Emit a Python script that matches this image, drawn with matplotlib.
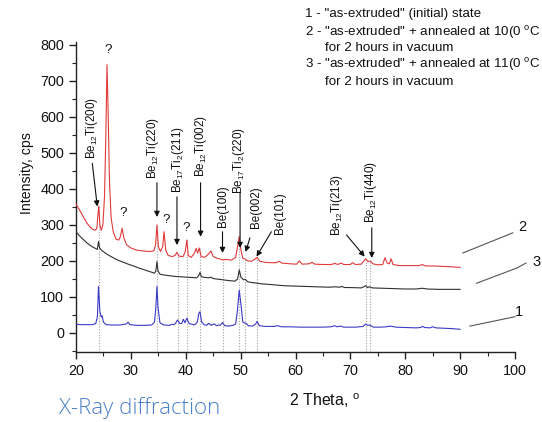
import matplotlib
matplotlib.use("Agg")
import matplotlib.pyplot as plt
from matplotlib.ticker import MultipleLocator

plt.rcParams['font.family'] = ['Liberation Sans', 'DejaVu Sans']
plt.rcParams['mathtext.fontset'] = 'custom'
plt.rcParams['mathtext.rm'] = 'Liberation Sans'
plt.rcParams['mathtext.it'] = 'Liberation Sans:italic'
plt.rcParams['mathtext.bf'] = 'Liberation Sans:bold'

# ---- data: (2theta, intensity) ----
curve1_points = [(20,24),(21,23),(22,23),(23,23),(23.6,26),(23.9,45),(24.1,129),(24.35,60),(24.6,44),(24.75,48),
    (25.0,30),(25.5,23),(26.5,22),(28,22),(29.2,25),(29.5,30),(29.8,23),(31,21),(32.5,21),(33.8,22),(34.3,30),
    (34.55,70),(34.75,129),(34.95,70),(35.3,28),(36,22),(37,21),(37.5,24),(37.9,23),(38.2,28),(38.5,36),(38.9,26),
    (39.3,27),(39.55,38),(39.85,28),(40.2,41),(40.6,26),(41.2,24),(41.6,22),(42.1,30),(42.4,55),(42.6,59),(42.9,30),
    (43.4,22),(43.9,22),(44.2,27),(44.6,21),(45.2,25),(45.6,20),(46.0,22),(46.3,21),(46.7,29),(47.1,20),(47.8,19),
    (48.6,21),(49.1,25),(49.4,60),(49.75,119),(50.05,80),(50.4,30),(50.8,27),(51.0,27),(51.4,20),(52.2,19),(52.7,24),
    (53.0,32),(53.4,20),(54.5,18),(56,18),(56.8,20),(57.4,17),(59,17),(61,16),(63,16),(65,16),(66.5,17),(67.1,20),
    (67.6,17),(68.2,19),(68.8,16),(70,16),(71,16),(72.3,18),(72.8,25),(73.1,21),(73.5,22),(74.2,16),(75.5,16),
    (76.5,17),(77.3,19),(78.3,16),(80,15),(82,14),(82.8,15),(83.1,18),(83.6,15),(84.5,14),(85,17),(85.6,14),
    (87,13),(88.5,12),(90,10)]

curve3_points = [(20,281),(20.5,272),(21,264),(21.5,257),(22,250),(22.5,244),(23,239),(23.5,235),(23.9,232),
    (24.1,254),(24.3,236),(24.7,229),(25.5,220),(26.5,211),(27.5,203),(28.5,197),(29.5,191),(30.5,186),(31.5,180),
    (32.5,175),(33.5,170),(34.3,166),(34.55,172),(34.75,198),(34.95,172),(35.3,163),(36,161),(37,159),(38,157),
    (39,156),(40,155),(41,154),(42,153),(42.4,160),(42.6,168),(42.85,156),(43.5,154),(44.3,153),(44.6,155),(45,151),
    (46,149),(47,147),(48,145),(49,144),(49.45,150),(49.75,175),(50.05,155),(50.5,148),(50.9,148),(51.3,142),
    (52,140),(53,138),(54,136),(55,135),(56.5,133),(58,131),(60,130),(62,129),(64,128),(66,127),(67.2,128),(68,127),
    (68.4,129),(69,126),(70,126),(72,125),(72.8,131),(73.1,126),(73.5,128),(74,125),(76,124),(78,123),(80,122),
    (82,122),(83.1,124),(84,122),(86,121),(88,121),(90,121)]

curve2_points = [(20,358),(20.5,345),(21,332),(21.5,318),(22,305),(22.5,295),(23,288),(23.5,285),(23.8,290),
    (24.0,330),(24.15,352),(24.35,300),(24.6,285),(24.9,300),(25.2,380),(25.45,560),(25.65,745),(25.85,620),
    (26.1,420),(26.4,320),(26.8,280),(27.3,260),(27.8,258),(28.1,268),(28.4,291),(28.7,265),(29.2,245),(30,236),
    (31,230),(32,228),(33.4,226),(34.2,228),(34.5,245),(34.75,300),(35.0,240),(35.4,226),(35.8,240),(36.05,281),
    (36.35,230),(36.8,215),(37.6,212),(38.1,216),(38.4,224),(38.8,213),(39.5,212),(39.9,225),(40.2,258),(40.45,215),
    (41,210),(41.6,222),(41.9,235),(42.15,222),(42.45,236),(42.8,212),(43.5,210),(44.2,220),(44.6,228),(45.0,212),
    (45.8,207),(46.7,203),(47.5,204),(48.3,202),(49.1,210),(49.45,240),(49.75,268),(50.05,230),(50.4,207),(50.8,205),
    (51.3,200),(52,199),(52.6,205),(53.0,210),(53.5,199),(54.5,196),(55.5,195),(56.5,195),(57.0,199),(57.5,194),
    (59,192),(60.2,191),(60.7,200),(61.2,191),(62.5,192),(63.0,196),(63.5,191),(65,190),(66.5,190),(67.2,193),
    (67.7,190),(68.3,194),(68.8,190),(70,190),(70.4,195),(70.9,190),(72,191),(72.8,206),(73.2,198),(73.6,200),
    (74.1,192),(75,189),(75.9,190),(76.3,209),(76.7,194),(77.1,192),(77.4,206),(77.8,190),(79,187),(81,187),
    (82.5,187),(83.1,190),(83.7,186),(85,186),(86.5,185),(88,184),(90,182)]

# dotted reference lines: position, top
ref_x = [24.13, 34.75, 38.5, 40.2, 42.6, 46.7, 49.75, 50.85, 52.95, 72.8, 73.5]
ref_top = [352, 300, 224, 258, 236, 203, 268, 205, 210, 206, 200]

# peak labels: text, text position, arrow tail, arrow head
peak_labels = [
    (r'Be$_{\rm 12}$Ti(200)', (22.9, 569), (22.97, 471), (23.88, 351)),
    (r'Be$_{\rm 12}$Ti(220)', (34.0, 514), (34.75, 417), (34.75, 322)),
    (r'Be$_{\rm 17}$Ti$_{\rm 2}$(211)', (38.6, 481), (38.4, 378), (38.4, 244)),
    (r'Be$_{\rm 12}$Ti(002)', (42.8, 519), (42.7, 417), (42.7, 267)),
    (r'Be(100)', (46.8, 353), (46.7, 281), (46.7, 222)),
    (r'Be$_{\rm 17}$Ti$_{\rm 2}$(220)', (49.75, 478), (49.9, 389), (49.9, 236)),
    (r'Be(002)', (52.8, 350), (51.7, 264), (50.9, 225)),
    (r'Be(101)', (57.2, 333), (55.6, 281), (52.9, 212)),
    (r'Be$_{\rm 12}$Ti(213)', (67.5, 355), (69.3, 272), (72.6, 212)),
    (r'Be$_{\rm 12}$Ti(440)', (73.8, 391), (73.9, 292), (73.9, 208)),
]
question_marks = [(25.8, 786), (28.6, 333), (36.4, 314), (40.0, 292)]

# curve number labels: text, text position, leader line points
curve_labels = [
    ('2', (101.4, 294), [(90.5, 222), (99.6, 278)]),
    ('3', (104.0, 197), [(93.0, 138), (100.3, 180), (102.0, 194)]),
    ('1', (100.7, 58), [(91.8, 19), (100.0, 45)]),
]

legend_lines = [
    ('1 - "as-extruded" (initial) state', 0),
    ('2 - "as-extruded" + annealed at 10(0 $^{\\rm o}$C', 0),
    ('for 2 hours in vacuum', 1),
    ('3 - "as-extruded" + annealed at 11(0 $^{\\rm o}$C', 0),
    ('for 2 hours in vacuum', 1),
]

W, H = 542, 422
fig = plt.figure(figsize=(W/100, H/100), dpi=100)
ax = fig.add_axes([76/W, 1-352/H, 439/W, 310/H])
ax.set_xlim(20, 100)
ax.set_ylim(-53, 808)

for xv, top in zip(ref_x, ref_top):
    ax.plot([xv, xv], [-53, top], color='#a0a0a0', lw=0.8, ls=(0, (1, 1.5)), zorder=1)

for pts, col in [(curve1_points, '#3a3ac8'), (curve3_points, '#303030'), (curve2_points, '#e03a3a')]:
    xs = [p[0] for p in pts]
    ys = [p[1] for p in pts]
    ax.plot(xs, ys, color=col, lw=0.8, zorder=3)

for txt, tpos, tail, head in peak_labels:
    ax.text(tpos[0], tpos[1], txt, rotation=90, ha='center', va='center', fontsize=8.4, color='#111111')
    ax.annotate('', xy=head, xytext=tail,
                arrowprops=dict(arrowstyle='-|>', color='#111111', lw=0.8, mutation_scale=8,
                                shrinkA=0, shrinkB=0), zorder=4)

for qx, qy in question_marks:
    ax.text(qx, qy, '?', ha='center', va='center', fontsize=9.5, color='#111111')

for txt, tpos, line in curve_labels:
    ax.plot([p[0] for p in line], [p[1] for p in line], color='#555555', lw=0.8, clip_on=False)
    ax.text(tpos[0], tpos[1], txt, ha='center', va='center', fontsize=10.5, color='#111111', clip_on=False)

ax.spines['top'].set_visible(False)
ax.spines['right'].set_visible(False)
for s in ['left', 'bottom']:
    ax.spines[s].set_color('#222222')
    ax.spines[s].set_linewidth(1.0)
ax.xaxis.set_major_locator(MultipleLocator(10))
ax.xaxis.set_minor_locator(MultipleLocator(5))
ax.yaxis.set_major_locator(MultipleLocator(100))
ax.yaxis.set_minor_locator(MultipleLocator(50))
ax.tick_params(which='major', direction='out', length=5, width=1.0, labelsize=10.4, color='#222222',
               labelcolor='#111111')
ax.tick_params(which='minor', direction='out', length=3, width=0.8, color='#222222')
ax.set_yticks(range(0, 801, 100))

fig.text(27/W, 1-173/H, 'Intensity, cps', rotation=90, ha='center', va='center', fontsize=10.2, color='#111111')
fig.text(289/W, 1-401/H, r'2 Theta, $^{\rm o}$', ha='left', va='center', fontsize=11.5, color='#111111')
fig.text(59/W, 1-408/H, 'X-Ray diffraction', ha='left', va='center', fontsize=16,
         family=['Open Sans', 'DejaVu Sans'], fontweight='light', color='#4a80c8')

ys_leg = [14, 33, 48, 65, 82]
for (txt, ind), yp in zip(legend_lines, ys_leg):
    fig.text((305 + 20*ind)/W, 1-yp/H, txt, ha='left', va='center', fontsize=9.6, color='#111111')

fig.savefig('out.png', dpi=100)
